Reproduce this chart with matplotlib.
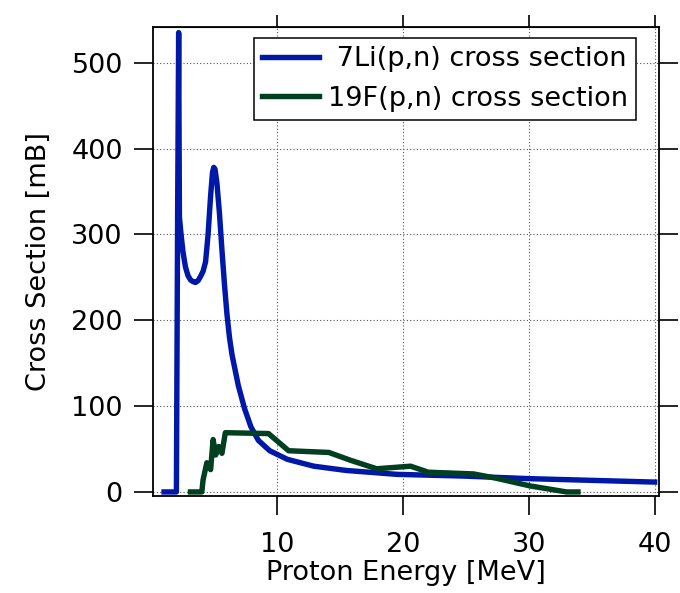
import numpy as np
import matplotlib
matplotlib.use("Agg")
import matplotlib.pyplot as plt

# 7Li(p,n) cross section
li_energy = [1.0, 1.98, 2.08, 2.16, 2.22, 2.35, 2.5, 2.7, 2.9, 3.1, 3.3, 3.5,
             3.7, 3.9, 4.1, 4.3, 4.5, 4.7, 4.85, 4.95, 5.05, 5.2, 5.4, 5.6,
             5.8, 6.0, 6.2, 6.4, 6.9, 7.4, 7.9, 8.5, 9.4,
             10.8, 12.9, 15.5, 19.5, 24.8, 30.0, 40.0]
li_xs = [0, 0, 330, 535, 320, 300, 280, 262, 252, 247, 245, 244,
         246, 251, 257, 268, 300, 345, 372, 378, 376, 360, 325, 282,
         242, 207, 180, 160, 124, 97, 76, 60, 48,
         38, 30, 25, 20.5, 18.5, 15.5, 11.5]

# 19F(p,n) cross section
f_energy = [3.1, 4.0, 4.1, 4.4, 4.7, 4.9, 5.1, 5.34, 5.6, 5.87, 9.3, 10.9,
            14.1, 15.8, 17.9, 20.6, 22.0, 25.6, 27.4, 30.1, 33.0, 33.9]
f_xs = [0, 0, 14, 34, 26, 61, 43, 53, 45, 69, 68, 48,
        46, 37, 27, 30, 23, 21, 16, 7, 0, 0]

labels = [" 7Li(p,n) cross section", "19F(p,n) cross section"]
colors = ["#0018a8", "#003f1f"]

plt.rcParams['font.family'] = ['DejaVu Sans']
fs = 19.5

fig = plt.figure(figsize=(6.8, 5.93), dpi=100)
ax = fig.add_axes([0.225, 0.1636, 0.744, 0.791])

ax.plot(li_energy, li_xs, color=colors[0], lw=3.9, label=labels[0])
ax.plot(f_energy, f_xs, color=colors[1], lw=3.9, label=labels[1])

ax.set_xlim(0.12, 40.34)
ax.set_ylim(-4.7, 541.6)
ax.set_xticks([10, 20, 30, 40])
ax.set_yticks([0, 100, 200, 300, 400, 500])

ax.grid(True, color="#555555", lw=0.8, ls=(0, (1, 2)))

for s in ax.spines.values():
    s.set_linewidth(1.3)

ax.tick_params(axis='both', direction='out', length=13.7, width=1.2,
               labelsize=fs, right=True)
ax.tick_params(axis='x', pad=12)
ax.tick_params(axis='y', pad=8)

top = ax.secondary_xaxis('top')
top.set_xticks([10, 20, 30, 40])
top.tick_params(direction='out', length=8.5, width=1.2, labeltop=False)

ax.set_xlabel("Proton Energy [MeV]", fontsize=fs, labelpad=2)
ax.set_ylabel("Cross Section [mB]", fontsize=fs, labelpad=14)

leg = ax.legend(loc='upper right', bbox_to_anchor=(0.9545, 0.9765),
                borderaxespad=0, fontsize=fs, fancybox=False, framealpha=1,
                edgecolor='black', borderpad=0.3, labelspacing=0.5,
                handlelength=2.1, handletextpad=0.33)
leg.get_frame().set_linewidth(1.1)

fig.savefig("out.png", dpi=100)
